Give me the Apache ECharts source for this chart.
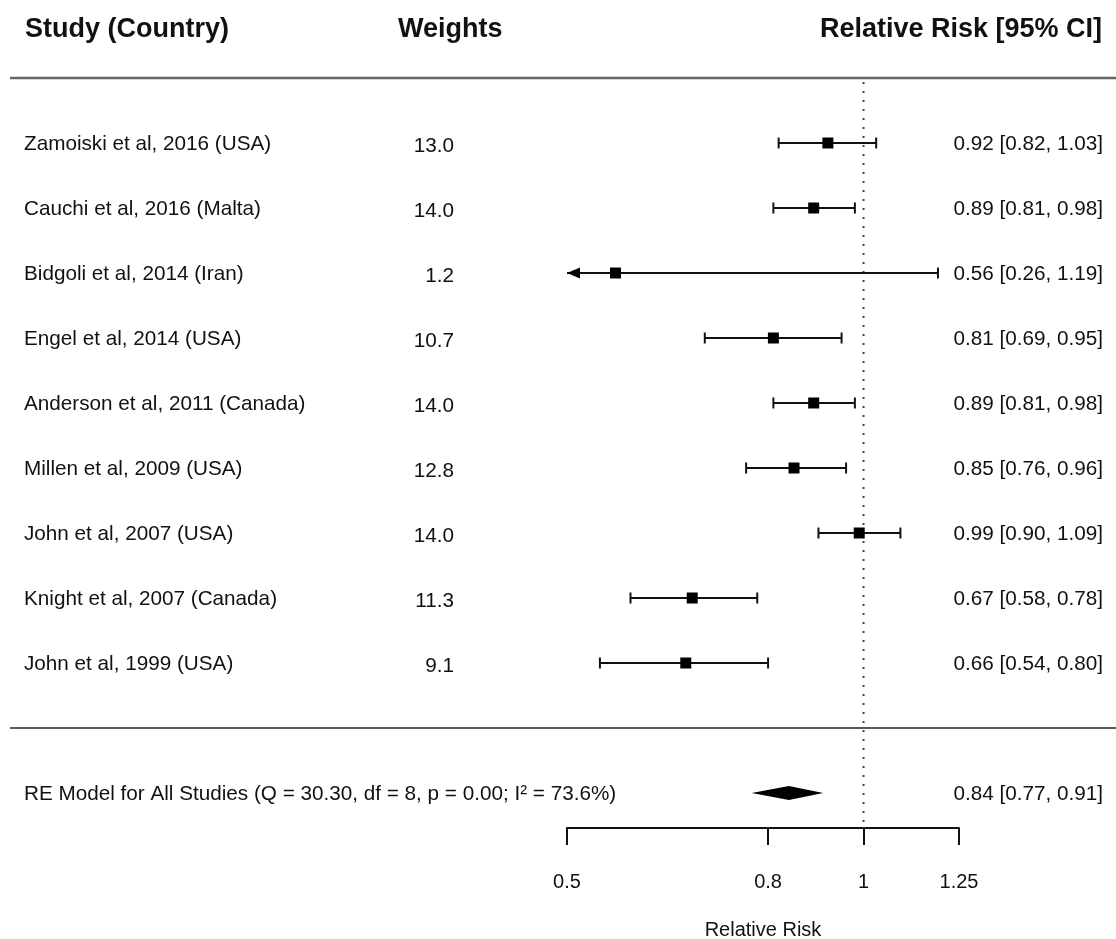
<!DOCTYPE html>
<html>
<head>
<meta charset="utf-8">
<script src="https://cdn.jsdelivr.net/npm/echarts@6/dist/echarts.min.js"></script>
<style>html,body{margin:0;padding:0;background:#fff}#main{width:1116px;height:939px}</style>
</head>
<body>
<div id="main"></div>
<script>
// ---- data ----
const studies = [
  'Zamoiski et al, 2016 (USA)',
  'Cauchi et al, 2016 (Malta)',
  'Bidgoli et al, 2014 (Iran)',
  'Engel et al, 2014 (USA)',
  'Anderson et al, 2011 (Canada)',
  'Millen et al, 2009 (USA)',
  'John et al, 2007 (USA)',
  'Knight et al, 2007 (Canada)',
  'John et al, 1999 (USA)'
];
const weights = [13.0, 14.0, 1.2, 10.7, 14.0, 12.8, 14.0, 11.3, 9.1];
const rr    = [0.92, 0.89, 0.56, 0.81, 0.89, 0.85, 0.99, 0.67, 0.66];
const lower = [0.82, 0.81, 0.26, 0.69, 0.81, 0.76, 0.90, 0.58, 0.54];
const upper = [1.03, 0.98, 1.19, 0.95, 0.98, 0.96, 1.09, 0.78, 0.80];
const summaryLabel = 'RE Model for All Studies (Q = 30.30, df = 8, p = 0.00; I\u00B2 = 73.6%)';
const summary = [0.84, 0.77, 0.91];
const xTicks = [0.5, 0.8, 1, 1.25];
const xTickLabels = ['0.5', '0.8', '1', '1.25'];

// ---- layout ----
const FONT = '"Liberation Sans", Arial, Helvetica, sans-serif';
const ROW_SUMMARY = 11, Y_MAX = 750 / 65;
const xMin = Math.log(0.5), xMax = Math.log(1.25);
const fmt = v => v.toFixed(2);

const rowData = rr.map((v, i) => [Math.log(v), Math.log(lower[i]), Math.log(upper[i]), i + 1]);

const chart = echarts.init(document.getElementById('main'), null, {renderer: 'canvas'});
const TS = {fill: '#111', font: '20.7px ' + FONT, textVerticalAlign: 'middle'};

function renderRow(params, api) {
  const i = params.dataIndex;
  const y = api.coord([0, api.value(3)])[1];
  const pc = api.coord([api.value(0), api.value(3)]);
  const loRaw = api.value(1);
  const lo = api.coord([Math.max(loRaw, xMin), api.value(3)]);
  const hi = api.coord([api.value(2), api.value(3)]);
  const stroke = {stroke: '#111', lineWidth: 2};
  const ch = [];
  ch.push({type: 'line', shape: {x1: lo[0], y1: y, x2: hi[0], y2: y}, style: stroke});
  if (loRaw < xMin) {
    ch.push({type: 'polygon', shape: {points: [[lo[0], y], [lo[0] + 13, y - 5.5], [lo[0] + 13, y + 5.5]]}, style: {fill: '#000'}});
  } else {
    ch.push({type: 'line', shape: {x1: lo[0], y1: y - 5.5, x2: lo[0], y2: y + 5.5}, style: stroke});
  }
  ch.push({type: 'line', shape: {x1: hi[0], y1: y - 5.5, x2: hi[0], y2: y + 5.5}, style: stroke});
  ch.push({type: 'rect', shape: {x: pc[0] - 5.5, y: y - 5.5, width: 11, height: 11}, style: {fill: '#000'}});
  ch.push({type: 'text', style: Object.assign({x: 24, y: y + 1, text: studies[i], textAlign: 'left'}, TS)});
  ch.push({type: 'text', style: Object.assign({x: 454, y: y + 3, text: weights[i].toFixed(1), textAlign: 'right'}, TS)});
  ch.push({type: 'text', style: Object.assign({x: 1103, y: y + 1, text: fmt(rr[i]) + ' [' + fmt(lower[i]) + ', ' + fmt(upper[i]) + ']', textAlign: 'right'}, TS)});
  return {type: 'group', children: ch};
}

function renderSummary(params, api) {
  const k = api.value(3);
  const c = api.coord([api.value(0), k]);
  const lo = api.coord([api.value(1), k]);
  const hi = api.coord([api.value(2), k]);
  const h = 7;
  return {type: 'group', children: [
    {type: 'polygon', shape: {points: [[lo[0], c[1]], [c[0], c[1] - h], [hi[0], c[1]], [c[0], c[1] + h]]}, style: {fill: '#000'}},
    {type: 'text', style: Object.assign({x: 24, y: c[1] + 1, text: summaryLabel, textAlign: 'left'}, TS)},
    {type: 'text', style: Object.assign({x: 1103, y: c[1] + 1, text: fmt(summary[0]) + ' [' + fmt(summary[1]) + ', ' + fmt(summary[2]) + ']', textAlign: 'right'}, TS)}
  ]};
}

function renderFrame(params, api) {
  const top = api.coord([0, 0]);
  const sep = api.coord([0, 10]);
  const bot = api.coord([0, Y_MAX]);
  const hs = {fill: '#111', font: 'bold 27px ' + FONT, textVerticalAlign: 'middle'};
  return {type: 'group', children: [
    {type: 'line', shape: {x1: 10, y1: top[1], x2: 1116, y2: top[1]}, style: {stroke: '#666', lineWidth: 2.5}},
    {type: 'line', shape: {x1: 10, y1: sep[1], x2: 1116, y2: sep[1]}, style: {stroke: '#222', lineWidth: 1.5}},
    {type: 'line', shape: {x1: top[0], y1: top[1] + 4, x2: bot[0], y2: bot[1]}, style: {stroke: '#444', lineWidth: 2, lineDash: [2, 7]}},
    {type: 'text', style: Object.assign({x: 25, y: 30, text: 'Study (Country)', textAlign: 'left'}, hs)},
    {type: 'text', style: Object.assign({x: 398, y: 30, text: 'Weights', textAlign: 'left'}, hs)},
    {type: 'text', style: Object.assign({x: 1102, y: 30, text: 'Relative Risk [95% CI]', textAlign: 'right'}, hs)}
  ]};
}

chart.setOption({
  animation: false,
  backgroundColor: '#fff',
  grid: {left: 567, right: 157, top: 78, bottom: 111, containLabel: false, outerBoundsMode: 'none'},
  xAxis: {
    type: 'value', min: xMin, max: xMax,
    axisLine: {show: true, onZero: false, lineStyle: {color: '#111', width: 2}},
    axisTick: {show: true, length: 17, customValues: xTicks.map(Math.log), lineStyle: {color: '#111', width: 2}},
    axisLabel: {
      customValues: xTicks.map(Math.log), margin: 44, color: '#111', fontSize: 20, fontFamily: FONT,
      formatter: v => { let b = 0, d = 1e9; xTicks.forEach((t, j) => { const e = Math.abs(Math.log(t) - v); if (e < d) { d = e; b = j; } }); return xTickLabels[b]; }
    },
    splitLine: {show: false},
    name: 'Relative Risk', nameLocation: 'middle', nameGap: 92,
    nameTextStyle: {color: '#111', fontSize: 20, fontFamily: FONT}
  },
  yAxis: {type: 'value', min: 0, max: Y_MAX, inverse: true, show: false},
  series: [
    {type: 'custom', renderItem: renderFrame, data: [[0, 0, 0, 0]], clip: false, silent: true},
    {type: 'custom', renderItem: renderRow, data: rowData, clip: false, silent: true},
    {type: 'custom', renderItem: renderSummary, data: [[Math.log(summary[0]), Math.log(summary[1]), Math.log(summary[2]), ROW_SUMMARY]], clip: false, silent: true}
  ]
});
</script>
</body>
</html>
